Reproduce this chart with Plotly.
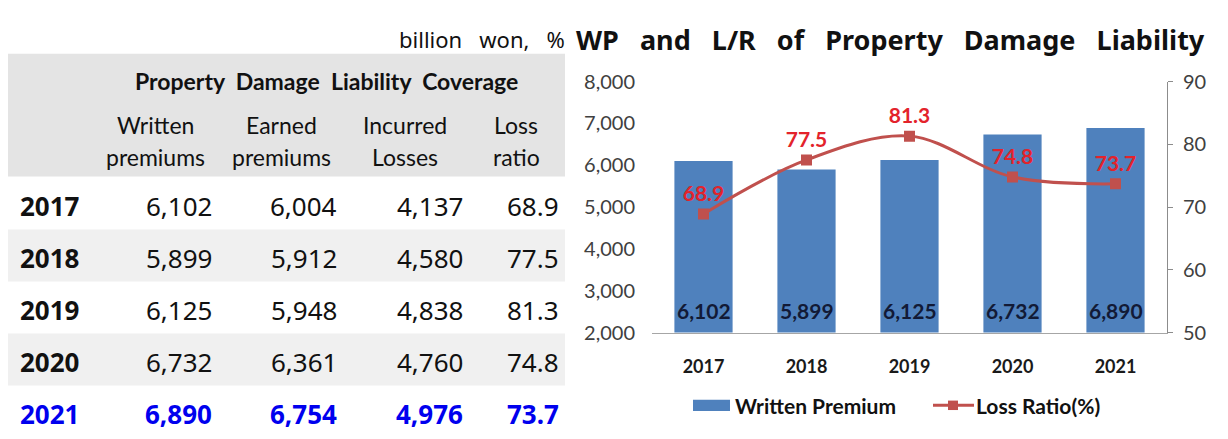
import plotly.graph_objects as go

# ---------------- data ----------------
years = ["2017", "2018", "2019", "2020", "2021"]
written = [6102, 5899, 6125, 6732, 6890]
earned = [6004, 5912, 5948, 6361, 6754]
incurred = [4137, 4580, 4838, 4760, 4976]
loss_ratio = [68.9, 77.5, 81.3, 74.8, 73.7]
col_heads = [("Written", "premiums"), ("Earned", "premiums"),
             ("Incurred", "Losses"), ("Loss", "ratio")]
table_title = "Property Damage Liability Coverage"
unit_label = "billion won, %"
chart_title = "WP and L/R of Property Damage Liability"
legend_names = ["Written Premium", "Loss Ratio(%)"]

# ---------------- geometry helpers ----------------
W, H = 1228, 439
def px(x):
    return x / W
def py(y):
    return 1 - y / H

BLUE = "#4F81BD"
RED_LINE = "#C0504D"
RED_TXT = "#E3232B"
HL = "#0000EE"

fig = go.Figure()

fig.add_trace(go.Bar(
    x=years, y=written, marker=dict(color=BLUE, line=dict(width=0)),
    showlegend=False, hoverinfo="skip", yaxis="y"))

fig.add_trace(go.Scatter(
    x=years, y=loss_ratio, yaxis="y2", mode="lines+markers+text",
    line=dict(color=RED_LINE, width=3, shape="spline", smoothing=1.0),
    marker=dict(symbol="square", size=11, color=RED_LINE),
    text=[f"<b>{v:.1f}</b>" for v in loss_ratio], textposition="top center",
    textfont=dict(family="Lato", size=21, color=RED_TXT),
    showlegend=False, hoverinfo="skip"))

annotations = []
shapes = []

# bar value labels at bottom of bars (x given as category index)
for i, v in enumerate(written):
    annotations.append(dict(x=i, y=2000, xref="x", yref="y", text=f"<b>{v:,}</b>",
                            showarrow=False, yanchor="bottom", yshift=8,
                            font=dict(family="Lato", size=21, color="#121a36")))

# ---------------- table ----------------
shapes.append(dict(type="rect", xref="paper", yref="paper", x0=px(8), x1=px(565),
                   y0=py(173), y1=py(43), fillcolor="#E4E4E4", line=dict(width=0), layer="below"))
row_top0, row_h = 174, 55
for i in range(len(years)):
    if i % 2 == 1:
        shapes.append(dict(type="rect", xref="paper", yref="paper", x0=px(8), x1=px(565),
                           y0=py(row_top0 + (i + 1) * row_h), y1=py(row_top0 + i * row_h),
                           fillcolor="#F0F0F0", line=dict(width=0), layer="below"))

annotations.append(dict(x=px(326), y=py(72), xref="paper", yref="paper",
                        text="<b>" + table_title.replace(" ", "&nbsp;&nbsp;") + "</b>",
                        showarrow=False, xanchor="center", yanchor="middle",
                        font=dict(family="Lato", size=23, color="#111111")))
head_cx = [155, 281, 405, 516]
for cx, (l1, l2) in zip(head_cx, col_heads):
    annotations.append(dict(x=px(cx), y=py(118), xref="paper", yref="paper", text=l1,
                            showarrow=False, xanchor="center", yanchor="middle",
                            font=dict(family="Lato", size=23, color="#111111")))
    annotations.append(dict(x=px(cx), y=py(152), xref="paper", yref="paper", text=l2,
                            showarrow=False, xanchor="center", yanchor="middle",
                            font=dict(family="Lato", size=23, color="#111111")))

col_right = [214, 339, 465, 561]
for i, yr in enumerate(years):
    yc = 204 + i * 55
    last = (i == len(years) - 1)
    col = HL if last else "#111111"
    vals = [f"{written[i]:,}", f"{earned[i]:,}", f"{incurred[i]:,}", f"{loss_ratio[i]:.1f}"]
    annotations.append(dict(x=px(18), y=py(yc), xref="paper", yref="paper", text=f"<b>{yr}</b>",
                            showarrow=False, xanchor="left", yanchor="middle",
                            font=dict(family="Noto Sans", size=26, color=col)))
    for xr, s in zip(col_right, vals):
        annotations.append(dict(x=px(xr), y=py(yc), xref="paper", yref="paper",
                                text=(f"<b>{s}</b>" if last else s),
                                showarrow=False, xanchor="right", yanchor="middle",
                                font=dict(family="Noto Sans", size=26, color=col)))

# unit label and chart title
annotations.append(dict(x=px(567), y=py(27), xref="paper", yref="paper",
                        text=unit_label.replace(" ", "&nbsp;&nbsp;&nbsp;"), showarrow=False,
                        xanchor="right", yanchor="middle",
                        font=dict(family="Noto Sans", size=22, color="#111111")))
annotations.append(dict(x=px(574), y=py(28), xref="paper", yref="paper",
                        text="<b>" + chart_title.replace(" ", "&nbsp;&nbsp;&nbsp;") + "</b>",
                        showarrow=False, xanchor="left", yanchor="middle",
                        font=dict(family="Noto Sans", size=27, color="#111111")))

# ---------------- manual legend ----------------
ly = 415
shapes.append(dict(type="rect", xref="paper", yref="paper", x0=px(693), x1=px(730),
                   y0=py(ly + 6), y1=py(ly - 6), fillcolor=BLUE, line=dict(width=0)))
annotations.append(dict(x=px(733), y=py(ly), xref="paper", yref="paper",
                        text=f"<b>{legend_names[0]}</b>", showarrow=False,
                        xanchor="left", yanchor="middle",
                        font=dict(family="Lato", size=21, color="#111111")))
shapes.append(dict(type="line", xref="paper", yref="paper", x0=px(933), x1=px(974),
                   y0=py(ly), y1=py(ly), line=dict(color=RED_LINE, width=3)))
shapes.append(dict(type="rect", xref="paper", yref="paper", x0=px(948), x1=px(958),
                   y0=py(ly + 5), y1=py(ly - 5), fillcolor=RED_LINE, line=dict(width=0)))
annotations.append(dict(x=px(974), y=py(ly), xref="paper", yref="paper",
                        text=f"<b>{legend_names[1]}</b>", showarrow=False,
                        xanchor="left", yanchor="middle",
                        font=dict(family="Lato", size=21, color="#111111")))

fig.update_layout(
    width=W, height=H, margin=dict(l=0, r=0, t=0, b=0),
    paper_bgcolor="white", plot_bgcolor="white",
    bargap=0.435, showlegend=False,
    xaxis=dict(domain=[px(652), px(1167)], type="category", range=[-0.5, 4.5],
               showline=True, linecolor="#A6A6A6", linewidth=1, ticks="", showgrid=False,
               tickfont=dict(family="Lato", size=18, color="#1a1a1a", weight="bold"),
               ticklabelstandoff=18),
    yaxis=dict(domain=[py(338), py(72.5)], range=[2000, 8000], dtick=1000,
               tickformat=",", showgrid=False, showline=False, ticks="", zeroline=False,
               tickfont=dict(family="Lato", size=20, color="#404040"),
               ticklabelstandoff=16),
    yaxis2=dict(overlaying="y", side="right", range=[50, 90], dtick=10,
                showgrid=False, showline=True, linecolor="#8C8C8C", linewidth=1,
                ticks="outside", ticklen=5, tickcolor="#8C8C8C", zeroline=False,
                tickfont=dict(family="Lato", size=20, color="#404040"),
                ticklabelstandoff=6),
    annotations=annotations, shapes=shapes,
)

fig.write_html("out.html", config={"displayModeBar": False},
               post_script="document.body.style.margin='0';document.body.style.overflow='hidden';")
